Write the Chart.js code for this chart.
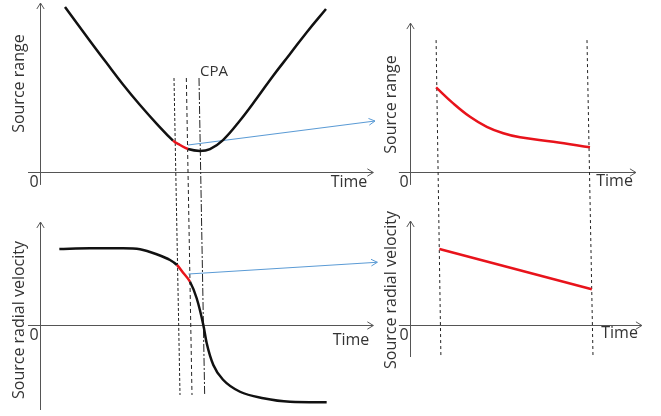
<!DOCTYPE html>
<html>
<head>
<meta charset="utf-8">
<script src="https://cdn.jsdelivr.net/npm/chart.js@4.4.1/dist/chart.umd.min.js"></script>
<style>
  html, body { margin: 0; padding: 0; background: #fff; }
  #wrap { position: relative; width: 661px; height: 416px; }
</style>
</head>
<body>
<div id="wrap"><canvas id="chart" width="661" height="416"></canvas></div>
<script>
// full pass: source range (hyperbola-like) and radial velocity vs time
const rangeTime = [0.75, 1.5, 2.01, 2.49, 3.0, 3.51, 3.99, 4.2, 4.44, 4.8, 5.1, 5.49, 6.0, 6.51, 6.99, 7.5, 8.01, 8.58];
const rangeValue = [9.71, 7.71, 6.38, 5.15, 3.94, 2.82, 1.85, 1.59, 1.35, 1.24, 1.35, 1.88, 3.03, 4.35, 5.65, 6.94, 8.24, 9.59];
const velTime = [0.58, 1.5, 2.49, 3.0, 3.5, 3.9, 4.11, 4.3, 4.5, 4.7, 4.9, 5.0, 5.2, 5.5, 6.0, 6.7, 7.5, 8.6];
const velValue = [3.04, 3.07, 3.07, 3.03, 2.83, 2.6, 2.4, 2.08, 1.73, 1.07, 0, -0.72, -1.6, -2.2, -2.67, -2.93, -3.07, -3.09];

// red window on the left curves
const rangeRed = [3.99, 4.44];
const velRed = [4.1, 4.5];

// zoomed window (right panels)
const zoomTime = [0.87, 1.44, 2.0, 2.56, 3.11, 3.67, 4.78, 6.0];
const zoomRange = [4.98, 4.04, 3.25, 2.66, 2.28, 2.04, 1.78, 1.45];
const zoomVelTime = [0.98, 6.06];
const zoomVel = [3.04, 1.43];

// vertical markers: time at top end, time at bottom end
const leftMarkTop = [4.02, 4.39, 4.77];
const leftMarkBottom = [4.2, 4.56, 4.94];
const rightMarkTop = [0.87, 5.9];
const rightMarkBottom = [1.03, 6.1];

// blue arrows from the red window to the zoomed panels
const arrowRangeT = [4.44, 10.05];
const arrowRangeR = [1.59, 3.0];
const arrowVelT = [4.45, 10.12];
const arrowVelV = [2.04, 2.51];

const pts = (xs, ys) => xs.map((x, i) => ({ x: x, y: ys[i] }));

const BLACK = '#111';
const RED = '#e8131b';
const BLUE = '#5b9bd5';
const AXIS = '#555';
const TEXT = '#333';
const FONT = '"Open Sans", "Noto Sans", sans-serif';

const panels = [
  { x: 'xL', y: 'yR', xMin: -0.36, xMax: 10, yMin: -0.76, yMax: 9.94, title: 'Source range', titleAt: 5.2, titleDx: -21, timeDx: -6, timeDy: 10 },
  { x: 'xL', y: 'yV', xMin: -0.36, xMax: 10, yMin: -3.4, yMax: 4.12, title: 'Source radial velocity', titleAt: 0.2, titleDx: -21, timeDx: -4, timeDy: 15 },
  { x: 'xR', y: 'yR', xMin: -0.37, xMax: 7.53, yMin: -0.76, yMax: 8.76, title: 'Source range', titleAt: 3.97, titleDx: -19, timeDx: -3, timeDy: 9 },
  { x: 'xR', y: 'yV', xMin: -0.37, xMax: 7.73, yMin: -1.28, yMax: 4.16, title: 'Source radial velocity', titleAt: 1.4, titleDx: -19, timeDx: -4, timeDy: 8.5 }
];

function line(c, x1, y1, x2, y2) {
  c.beginPath(); c.moveTo(x1, y1); c.lineTo(x2, y2); c.stroke();
}

function head(c, x, y, ang, len, spread) {
  c.beginPath();
  c.moveTo(x - len * Math.cos(ang - spread), y - len * Math.sin(ang - spread));
  c.lineTo(x, y);
  c.lineTo(x - len * Math.cos(ang + spread), y - len * Math.sin(ang + spread));
  c.stroke();
}

const overlay = {
  id: 'overlay',
  beforeDatasetsDraw(chart) {
    const c = chart.ctx, s = chart.scales;
    c.save();
    c.strokeStyle = AXIS;
    c.lineWidth = 1;
    panels.forEach(p => {
      const X = s[p.x], Y = s[p.y];
      const ox = Math.round(X.getPixelForValue(0)) + 0.5;
      const oy = Math.round(Y.getPixelForValue(0)) + 0.5;
      const xEnd = X.getPixelForValue(p.xMax), yEnd = Y.getPixelForValue(p.yMax);
      line(c, X.getPixelForValue(p.xMin), oy, xEnd, oy);
      line(c, ox, Y.getPixelForValue(p.yMin), ox, yEnd);
      head(c, xEnd, oy, 0, 7, 0.55);
      head(c, ox, yEnd, -Math.PI / 2, 7, 0.55);
    });

    // dashed time markers spanning both rows
    c.strokeStyle = '#222';
    const leftDash = [[3, 2], [4, 3], [8, 2, 2, 2]];
    leftMarkTop.forEach((t, i) => {
      c.setLineDash(leftDash[i]);
      line(c, s.xL.getPixelForValue(t), s.yR.getPixelForValue(5.53),
        s.xL.getPixelForValue(leftMarkBottom[i]), s.yV.getPixelForValue(-2.8));
    });
    rightMarkTop.forEach((t, i) => {
      c.setLineDash([3, 3]);
      line(c, s.xR.getPixelForValue(t), s.yR.getPixelForValue(7.76),
        s.xR.getPixelForValue(rightMarkBottom[i]), s.yV.getPixelForValue(-1.24));
    });
    c.restore();
  },
  afterDatasetsDraw(chart) {
    const c = chart.ctx, s = chart.scales;
    c.save();
    // blue arrowheads
    c.strokeStyle = BLUE;
    c.lineWidth = 1;
    [[arrowRangeT, arrowRangeR, 'yR'], [arrowVelT, arrowVelV, 'yV']].forEach(a => {
      const x1 = s.xL.getPixelForValue(a[0][0]), y1 = s[a[2]].getPixelForValue(a[1][0]);
      const x2 = s.xL.getPixelForValue(a[0][1]), y2 = s[a[2]].getPixelForValue(a[1][1]);
      head(c, x2, y2, Math.atan2(y2 - y1, x2 - x1), 7, 0.5);
    });

    c.fillStyle = TEXT;
    c.font = '16px ' + FONT;
    panels.forEach(p => {
      const X = s[p.x], Y = s[p.y];
      const ox = X.getPixelForValue(0), oy = Y.getPixelForValue(0);
      c.textAlign = 'center';
      c.textBaseline = 'middle';
      c.fillText('0', ox - 6, oy + 10);
      c.textAlign = 'right';
      c.fillText('Time', X.getPixelForValue(p.xMax) + p.timeDx, oy + p.timeDy);
      c.save();
      c.translate(ox + p.titleDx, Y.getPixelForValue(p.titleAt));
      c.rotate(-Math.PI / 2);
      c.textAlign = 'center';
      c.fillText(p.title, 0, 0);
      c.restore();
    });

    c.font = '15px ' + FONT;
    c.textAlign = 'left';
    c.textBaseline = 'middle';
    c.fillText('CPA', s.xL.getPixelForValue(leftMarkTop[2]) + 1, s.yR.getPixelForValue(5.53) - 6);
    c.restore();
  }
};

const inWindow = (w) => (ctx) =>
  ctx.p0.parsed.x >= w[0] - 1e-6 && ctx.p1.parsed.x <= w[1] + 1e-6 ? RED : undefined;

const ctx = document.getElementById('chart').getContext('2d');
new Chart(ctx, {
  type: 'scatter',
  data: {
    datasets: [
      {
        data: pts(rangeTime, rangeValue), xAxisID: 'xL', yAxisID: 'yR',
        borderColor: BLACK, borderWidth: 2.5, tension: 0.4,
        segment: { borderColor: inWindow(rangeRed) }
      },
      {
        data: pts(velTime, velValue), xAxisID: 'xL', yAxisID: 'yV',
        borderColor: BLACK, borderWidth: 2.5, cubicInterpolationMode: 'monotone',
        segment: { borderColor: inWindow(velRed) }
      },
      {
        data: pts(zoomTime, zoomRange), xAxisID: 'xR', yAxisID: 'yR',
        borderColor: RED, borderWidth: 2.5, tension: 0.4
      },
      {
        data: pts(zoomVelTime, zoomVel), xAxisID: 'xR', yAxisID: 'yV',
        borderColor: RED, borderWidth: 2.5
      },
      {
        data: pts(arrowRangeT, arrowRangeR), xAxisID: 'xL', yAxisID: 'yR',
        borderColor: BLUE, borderWidth: 1.2
      },
      {
        data: pts(arrowVelT, arrowVelV), xAxisID: 'xL', yAxisID: 'yV',
        borderColor: BLUE, borderWidth: 1.2
      }
    ].map(d => Object.assign({ showLine: true, pointRadius: 0, pointHoverRadius: 0, clip: false, fill: false }, d))
  },
  options: {
    responsive: false,
    animation: false,
    events: [],
    layout: { padding: 0 },
    scales: {
      xL: { type: 'linear', axis: 'x', display: false, bounds: 'data', min: -1.2, max: 18.63 },
      xR: { type: 'linear', axis: 'x', display: false, bounds: 'data', min: -13.667, max: 8.367 },
      yR: { type: 'linear', axis: 'y', display: false, bounds: 'data', min: -14.353, max: 10.118 },
      yV: { type: 'linear', axis: 'y', display: false, bounds: 'data', min: -3.64, max: 13.0 }
    },
    plugins: {
      legend: { display: false },
      tooltip: { enabled: false }
    }
  },
  plugins: [overlay]
});
</script>
</body>
</html>
